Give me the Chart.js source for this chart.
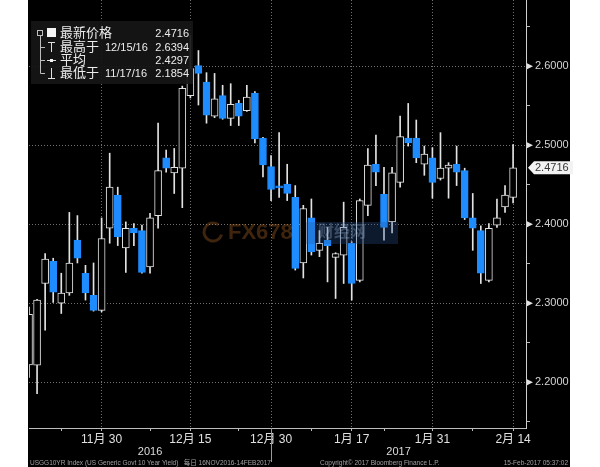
<!DOCTYPE html>
<html lang="zh">
<head>
<meta charset="UTF-8">
<title>USGG10YR 日线</title>
<script src="https://cdn.jsdelivr.net/npm/chart.js"></script>
<style>
  body { margin: 0; background: #fff; }
  #wrap { width: 600px; height: 467px; }
</style>
</head>
<body>
<div id="wrap"><canvas id="chart" width="600" height="467"></canvas></div>
<script>
// trading days 16NOV2016 - 14FEB2017
const dates = ['11/16','11/17','11/18','11/21','11/22','11/23','11/25','11/28','11/29','11/30',
  '12/1','12/2','12/5','12/6','12/7','12/8','12/9','12/12','12/13','12/14','12/15',
  '12/16','12/19','12/20','12/21','12/22','12/23','12/27','12/28','12/29','12/30',
  '1/3','1/4','1/5','1/6','1/9','1/10','1/11','1/12','1/13','1/17',
  '1/18','1/19','1/20','1/23','1/24','1/25','1/26','1/27','1/30','1/31',
  '2/1','2/2','2/3','2/6','2/7','2/8','2/9','2/10','2/13','2/14'];
const opens = [2.222,2.2215,2.325,2.353,2.300,2.313,2.380,2.338,2.310,2.291,
  2.395,2.437,2.370,2.395,2.392,2.346,2.411,2.484,2.465,2.471,2.563,
  2.601,2.580,2.537,2.563,2.534,2.553,2.544,2.566,2.509,2.473,
  2.448,2.451,2.434,2.351,2.408,2.367,2.380,2.358,2.361,2.376,
  2.329,2.424,2.476,2.438,2.403,2.453,2.509,2.509,2.476,2.484,
  2.458,2.471,2.476,2.468,2.408,2.392,2.329,2.399,2.422,2.434];
const highs = [2.295,2.305,2.363,2.357,2.338,2.415,2.411,2.348,2.351,2.408,
  2.490,2.447,2.403,2.401,2.399,2.414,2.528,2.494,2.496,2.575,2.6394,
  2.620,2.592,2.591,2.576,2.578,2.557,2.576,2.568,2.510,2.487,
  2.516,2.476,2.449,2.424,2.432,2.392,2.396,2.364,2.428,2.378,
  2.432,2.496,2.513,2.472,2.472,2.537,2.553,2.532,2.499,2.497,
  2.516,2.478,2.499,2.471,2.439,2.398,2.401,2.432,2.449,2.501];
const lows = [2.206,2.1854,2.266,2.301,2.287,2.310,2.351,2.304,2.290,2.289,
  2.376,2.373,2.339,2.373,2.338,2.338,2.395,2.466,2.439,2.421,2.560,
  2.551,2.528,2.535,2.533,2.525,2.525,2.543,2.503,2.460,2.430,
  2.434,2.430,2.342,2.332,2.361,2.359,2.327,2.306,2.325,2.304,
  2.327,2.411,2.449,2.380,2.389,2.447,2.499,2.478,2.462,2.433,
  2.456,2.433,2.449,2.406,2.367,2.325,2.327,2.396,2.415,2.427];
const closes = [2.286,2.304,2.356,2.314,2.313,2.351,2.357,2.313,2.291,2.382,
  2.447,2.384,2.395,2.389,2.339,2.408,2.468,2.471,2.472,2.572,2.597,
  2.591,2.538,2.559,2.534,2.552,2.537,2.561,2.508,2.475,2.444,
  2.446,2.439,2.344,2.420,2.365,2.376,2.373,2.363,2.396,2.325,
  2.430,2.475,2.466,2.396,2.465,2.511,2.503,2.484,2.489,2.453,
  2.471,2.475,2.466,2.408,2.395,2.338,2.395,2.408,2.437,2.4716];

const majorDays = ['11/30','12/15','12/30','1/17','1/31','2/14'];
const majorLabels = ['11月 30','12月 15','12月 30','1月 17','1月 31','2月 14'];
const minorDays = ['11/22','12/8','12/23','1/9','1/23','2/7'];
const yearLabels = ['2016','2017'];
const yearEndDay = '12/30';
const yTicks = [2.15,2.2,2.25,2.3,2.35,2.4,2.45,2.5,2.55,2.6,2.65];

const legendNames = ['最新价格','最高于','平均','最低于'];
const legendDates = ['','12/15/16','','11/17/16'];
const legendValues = ['2.4716','2.6394','2.4297','2.1854'];
const footerLeft = 'USGG10YR Index (US Generic Govt 10 Year Yield)   每日 16NOV2016-14FEB2017';
const footerMid = 'Copyright© 2017 Bloomberg Finance L.P.';
const footerRight = '15-Feb-2017 05:37:02';

const BLUE = '#1e8cff';
const WHITE = '#e2e2e2';
const GRID = 'rgba(150,150,150,0.75)';
const FONT = "'Liberation Sans', 'Noto Sans CJK SC', sans-serif";

const majorIdx = majorDays.map(d => dates.indexOf(d));
const minorIdx = minorDays.map(d => dates.indexOf(d));
const isMajorY = v => Math.abs(v * 10 - Math.round(v * 10)) < 1e-6;

const bodies = dates.map((d, i) => ({ x: i, y: [opens[i], closes[i]] }));
const wicks = dates.map((d, i) => ({ x: i, y: [lows[i], highs[i]] }));
const up = i => closes[i] >= opens[i];

const bloomberg = {
  id: 'bloomberg',
  beforeDraw(chart) {
    const c = chart.ctx;
    c.save();
    c.fillStyle = '#000';
    c.fillRect(28, 0, 542, 467);
    c.restore();
  },
  afterDatasetsDraw(chart) {
    // faint site watermark
    const c = chart.ctx;
    c.save();
    c.globalAlpha = 0.3;
    c.strokeStyle = '#d07a30';
    c.lineWidth = 3;
    c.beginPath(); c.arc(213, 232, 9, 0.3, Math.PI * 1.7); c.stroke();
    c.fillStyle = '#d07a30';
    c.font = 'bold 22px ' + FONT;
    c.textBaseline = 'middle';
    c.fillText('FX678', 228, 233);
    c.fillStyle = '#2c5596';
    c.fillRect(306, 222, 92, 22);
    c.fillStyle = '#9fb8e0';
    c.font = 'bold 16px ' + FONT;
    c.fillText('财经网', 318, 233);
    c.restore();
  },
  afterDraw(chart) {
    const c = chart.ctx;
    const xs = chart.scales.x, ys = chart.scales.y;
    const area = chart.chartArea;
    c.save();

    // year separator and year labels
    const sep = xs.getPixelForValue(dates.indexOf(yearEndDay));
    c.strokeStyle = '#9a9a9a';
    c.lineWidth = 1;
    c.beginPath(); c.moveTo(Math.round(sep) + 0.5, area.bottom); c.lineTo(Math.round(sep) + 0.5, 462); c.stroke();
    c.fillStyle = '#dcdcdc';
    c.font = '11px ' + FONT;
    c.textAlign = 'center';
    c.textBaseline = 'middle';
    c.fillText(yearLabels[0], (area.left + sep) / 2, 452);
    c.fillText(yearLabels[1], (sep + area.right) / 2, 452);

    // footer
    c.fillStyle = '#a0a0a0';
    c.font = '6.5px ' + FONT;
    c.textAlign = 'left';
    c.fillText(footerLeft, 30, 463);
    c.fillText(footerMid, 320, 463);
    c.textAlign = 'right';
    c.fillText(footerRight, 568, 463);

    // right axis markers
    c.fillStyle = '#e0e0e0';
    yTicks.filter(isMajorY).forEach(v => {
      const y = ys.getPixelForValue(v);
      c.beginPath();
      c.moveTo(area.right + 1, y - 3);
      c.lineTo(area.right + 7, y);
      c.lineTo(area.right + 1, y + 3);
      c.closePath();
      c.fill();
    });

    // last price tag
    const last = closes[closes.length - 1];
    const ty = ys.getPixelForValue(last);
    c.fillStyle = '#f2f2f2';
    c.beginPath();
    c.moveTo(area.right + 2, ty);
    c.lineTo(area.right + 8, ty - 6.5);
    c.lineTo(573, ty - 6.5);
    c.lineTo(573, ty + 6.5);
    c.lineTo(area.right + 8, ty + 6.5);
    c.closePath();
    c.fill();
    c.fillStyle = '#333';
    c.font = '11px ' + FONT;
    c.textAlign = 'left';
    c.fillText(last.toFixed(4), area.right + 9, ty + 0.5);

    // legend box
    c.fillStyle = 'rgba(22,22,22,0.92)';
    c.fillRect(31, 21, 162, 63);
    const rows = [33, 47, 60, 73];
    c.strokeStyle = '#bdbdbd';
    c.lineWidth = 1;
    c.strokeRect(37.5, 30.5, 5, 5);
    c.beginPath();
    c.moveTo(40.5, 36); c.lineTo(40.5, rows[3] + 0.5);
    rows.slice(1).forEach(y => { c.moveTo(40.5, y + 0.5); c.lineTo(45, y + 0.5); });
    c.stroke();
    c.fillStyle = '#f4f4f4';
    c.fillRect(47, 28, 9, 9);
    c.strokeStyle = '#e0e0e0';
    c.beginPath();
    c.moveTo(48, 42.5); c.lineTo(55, 42.5); c.moveTo(51.5, 42.5); c.lineTo(51.5, 52);
    c.moveTo(47, 60.5); c.lineTo(56, 60.5);
    c.moveTo(51.5, 68); c.lineTo(51.5, 78.5); c.moveTo(48, 78.5); c.lineTo(55, 78.5);
    c.stroke();
    c.fillRect(50, 59, 3, 3);
    c.fillStyle = '#ececec';
    c.textBaseline = 'middle';
    rows.forEach((y, i) => {
      c.textAlign = 'left';
      c.font = '13px ' + FONT;
      c.fillText(legendNames[i], 60, y);
      c.font = '11px ' + FONT;
      if (legendDates[i]) c.fillText(legendDates[i], 105, y + 1);
      c.textAlign = 'right';
      c.fillText(legendValues[i], 189, y + 1);
    });
    c.restore();
  }
};

new Chart(document.getElementById('chart'), {
  type: 'bar',
  data: {
    datasets: [
      {
        label: 'wick',
        data: wicks,
        backgroundColor: WHITE,
        borderWidth: 0,
        barThickness: 1,
        grouped: false,
        order: 2
      },
      {
        label: 'body',
        data: bodies,
        backgroundColor: ctx => up(ctx.dataIndex) ? '#000' : BLUE,
        borderColor: ctx => up(ctx.dataIndex) ? WHITE : BLUE,
        borderWidth: 1,
        borderSkipped: false,
        barThickness: 7,
        minBarLength: 2,
        grouped: false,
        order: 1
      }
    ]
  },
  options: {
    responsive: false,
    animation: false,
    layout: { padding: { left: 29, top: 0, right: 0, bottom: 0 } },
    plugins: { legend: { display: false }, tooltip: { enabled: false } },
    scales: {
      x: {
        type: 'linear',
        offset: false,
        min: 0,
        max: 61.6,
        afterBuildTicks: s => {
          s.ticks = majorIdx.concat(minorIdx).sort((a, b) => a - b).map(v => ({ value: v }));
        },
        afterFit: s => { s.height = 39; s.paddingLeft = 0; s.paddingRight = 0; },
        ticks: {
          autoSkip: false,
          maxRotation: 0,
          padding: 1,
          color: '#e0e0e0',
          font: { family: FONT, size: 12 },
          callback: v => {
            const k = majorIdx.indexOf(v);
            return k >= 0 ? majorLabels[k] : '';
          }
        },
        grid: {
          offset: false,
          color: ctx => (ctx.tick && majorIdx.includes(ctx.tick.value)) ? GRID : 'transparent',
          tickColor: '#bdbdbd',
          tickLength: 3,
          lineWidth: 1
        },
        border: { display: true, color: '#bdbdbd', width: 1, dash: [1, 2] }
      },
      y: {
        type: 'linear',
        position: 'right',
        min: 2.142,
        max: 2.684,
        afterBuildTicks: s => { s.ticks = yTicks.map(v => ({ value: v })); },
        afterFit: s => { s.width = 74; s.paddingTop = 0; s.paddingBottom = 0; },
        ticks: {
          padding: 5,
          color: '#d4d4d4',
          font: { family: FONT, size: 11 },
          callback: v => isMajorY(v) ? v.toFixed(4) : ''
        },
        grid: {
          color: ctx => (ctx.tick && isMajorY(ctx.tick.value)) ? GRID : 'transparent',
          tickColor: ctx => (ctx.tick && isMajorY(ctx.tick.value)) ? 'transparent' : '#bdbdbd',
          tickLength: 4,
          lineWidth: 1
        },
        border: { display: true, color: '#cfcfcf', width: 1, dash: [1, 2] }
      }
    }
  },
  plugins: [bloomberg]
});
</script>
</body>
</html>
